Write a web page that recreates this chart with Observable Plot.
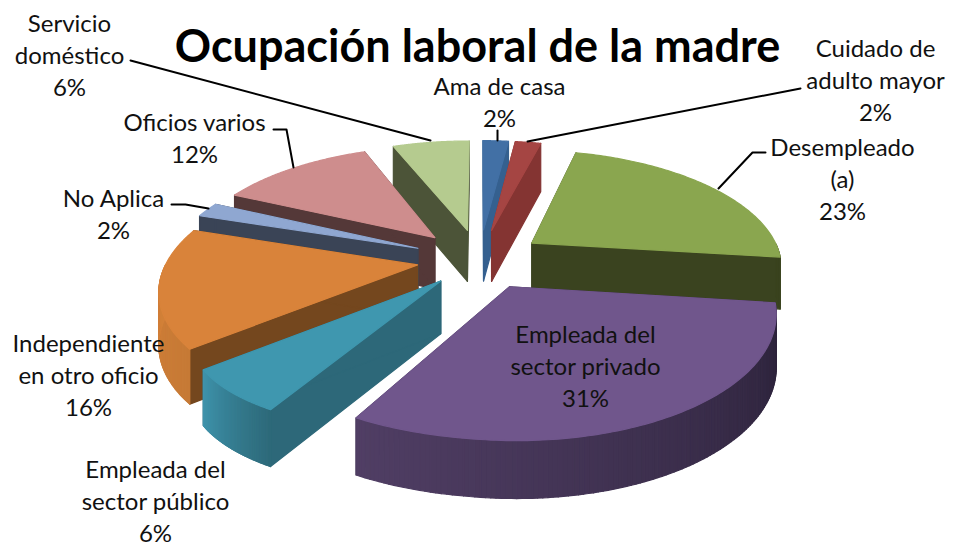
<!DOCTYPE html>
<html lang="es">
<head>
<meta charset="utf-8">
<style>html,body{margin:0;padding:0;background:#fff}svg{display:block}</style>
<script src="https://cdn.jsdelivr.net/npm/d3@7"></script>
<script src="https://cdn.jsdelivr.net/npm/@observablehq/plot@0.6"></script>
</head>
<body>
<div id="chart"></div>
<script>
const title = "Ocupación laboral de la madre";
const categories = ["Ama de casa","Cuidado de\nadulto mayor","Desempleado\n(a)","Empleada del\nsector privado","Empleada del\nsector público","Independiente\nen otro oficio","No Aplica","Oficios varios","Servicio\ndoméstico"];
const values = [2,2,23,31,6,16,2,12,6];
const topColors  = ["#4270a5","#a54543","#8aa64f","#70568c","#3f97af","#d9833a","#8fa7d1","#ce8d8d","#b5cb8f"];
const cutColors  = ["#35608f","#843432","#3a431f","#3a2d4a","#2d6879","#74471e","#3a4456","#543838","#4c5438"];
const wallStart  = ["#35608f","#843432","#3a431f","#2a2138","#2e6a7a","#c67a36","#3a4456","#543838","#4c5438"];
const wallEnd    = ["#35608f","#843432","#3a431f","#503e64","#3f93ab","#d9833a","#3a4456","#543838","#4c5438"];
const explodeBy  = [.27,.27,.26,.255,.235,.25,.27,.27,.27];
const paintOrder = [8,0,1,7,6,2,5,4,3];
const labelAt = [[499,100],[875,78],[842,177],[585,364],[155,499],[88,373],[113,212],[194,136],[69,53]];
const leaders = [
  [[497,130],[497,140]],
  [[800,88],[527,141]],
  [[765,152],[752,152],[718,188]],
  [[273,129],[286,129],[293,167]],
  [[171,204],[185,204],[208,208]],
  [[130,60],[430,140]]
];

// projection of the tilted pie
const cx=479, cy=259, Rx=250, Ry=115, persp=0.18, depth=52, frontSpread=0.2, frontFrom=0.7, nSeg=120;
const project=(u,v,h=0)=>{
  const w=1/(1-persp*v);
  const wx=u<0 ? w*(1+frontSpread*Math.max(0,v-frontFrom)) : w;
  return [cx+Rx*u*wx, cy+Ry*v*w+h*depth*(1+(w-1)*.4)];
};
const total=d3.sum(values);
const rad=p=>p/total*2*Math.PI;
const polys=[]; const add=(id,color,pts)=>pts.forEach(p=>polys.push({id,color,x:p[0],y:p[1]}));
let cum=0;
const slices=values.map((v,i)=>{const s={i,a0:rad(cum),a1:rad(cum+v)};cum+=v;return s;});
paintOrder.forEach(i=>{
  const {a0,a1}=slices[i], mid=(a0+a1)/2, e=explodeBy[i];
  const ou=e*Math.sin(mid), ov=-e*Math.cos(mid);
  const rim=(a,h)=>project(ou+Math.sin(a),ov-Math.cos(a),h);
  const tip=h=>project(ou,ov,h);
  const steps=d3.range(0,nSeg+1).map(k=>a0+(a1-a0)*k/nSeg);
  add(`c0${i}`,cutColors[i],[tip(0),rim(a0,0),rim(a0,1),tip(1)]);
  add(`c1${i}`,cutColors[i],[tip(0),rim(a1,0),rim(a1,1),tip(1)]);
  const mix=d3.interpolateRgb(wallStart[i],wallEnd[i]);
  for(let k=0;k<nSeg;k++){
    const b0=steps[k], b1=steps[k+1];
    if(Math.cos((b0+b1)/2)<0) add(`w${i}-${k}`,mix(k/(nSeg-1)),[rim(b0,0),rim(b1,0),rim(b1,1),rim(b0,1)]);
  }
  add(`t${i}`,topColors[i],[tip(0),...steps.map(a=>rim(a,0))]);
});

const labels=categories.map((c,i)=>({text:`${c}\n${values[i]}%`,x:labelAt[i][0],y:labelAt[i][1]}));
const leaderPts=leaders.flatMap((l,id)=>l.map(p=>({id,x:p[0],y:p[1]})));

const chart=Plot.plot({
  width:953,height:545,margin:0,
  x:{domain:[0,953],range:[0,953],axis:null},
  y:{domain:[0,545],range:[0,545],axis:null},
  color:{type:"identity"},
  style:{background:"#fff"},
  marks:[
    Plot.line(polys,{x:"x",y:"y",z:"id",fill:"color",stroke:"color",strokeWidth:1.2,curve:"linear-closed"}),
    Plot.line(leaderPts,{x:"x",y:"y",z:"id",stroke:"#000",strokeWidth:2}),
    Plot.text(labels,{x:"x",y:"y",text:"text",fontSize:24,lineHeight:1.33,fill:"#111",fontFamily:"Lato",textAnchor:"middle"}),
    Plot.text([title],{x:()=>477,y:()=>47,text:d=>d,fontSize:45,fontWeight:700,fill:"#000",fontFamily:"Lato",textAnchor:"middle"})
  ]
});
document.getElementById("chart").append(chart);
</script>
</body>
</html>
